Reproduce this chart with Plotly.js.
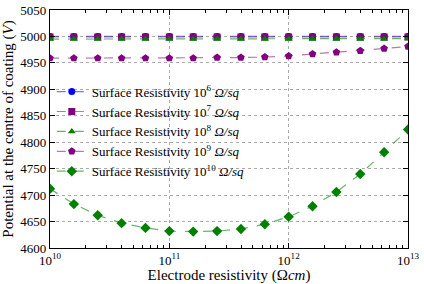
<!DOCTYPE html>
<html><head><meta charset="utf-8">
<script src="https://cdn.plot.ly/plotly-3.0.1.min.js"></script>
<style>body{margin:0;background:#fff}#c{width:424px;height:284px}</style>
</head><body><div id="c"></div>
<script>
const exponents = [10,10.2,10.4,10.6,10.8,11,11.2,11.4,11.6,11.8,12,12.2,12.4,12.6,12.8,13];
const electrodeResistivity = exponents.map(e => Math.pow(10, e));
const seriesNames = ["Surface Resistivity 10<sup>6</sup> <i>Ω/sq</i>","Surface Resistivity 10<sup>7</sup> <i>Ω/sq</i>","Surface Resistivity 10<sup>8</sup> <i>Ω/sq</i>","Surface Resistivity 10<sup>9</sup> <i>Ω/sq</i>","Surface Resistivity 10<sup>10</sup> <i>Ω/sq</i>"];
const s6 = [5000,5000,5000,5000,5000,5000,5000,5000,5000,5000,5000,5000,5000,5000,5000,5000];
const s7 = [4999,4999,4999,4999,4999,4999,4999,4999,4999,4999,4999,4999,4999,4999,4999,4999];
const s8 = [4995,4995,4995,4995,4995,4995,4995,4995,4995,4995,4995,4995,4995,4995,4995,4996];
const s9 = [4959,4959,4959,4959,4959,4959,4959,4960,4960,4961,4963,4967,4970,4973,4977,4981];
const s10 = [4712,4683,4662,4647,4638,4632,4631,4632,4636,4645,4659,4679,4706,4740,4781,4824];
const xTickVals = [1e10,1e11,1e12,1e13];
const xTickText = ["10<sup>10</sup>","10<sup>11</sup>","10<sup>12</sup>","10<sup>13</sup>"];
const yTickVals = [4600,4650,4700,4750,4800,4850,4900,4950,5000,5050];

const styles = [
  {color:'#0000ff', line:'rgba(60,60,255,0.7)', symbol:'circle', size:7},
  {color:'#800080', line:'rgba(150,60,150,0.7)', symbol:'square', size:7},
  {color:'#008000', line:'rgba(40,150,40,0.7)', symbol:'triangle-up', size:7},
  {color:'#800080', line:'rgba(150,60,150,0.7)', symbol:'pentagon', size:8},
  {color:'#008000', line:'rgba(40,150,40,0.7)', symbol:'diamond', size:8}
];
const data = [s6,s7,s8,s9,s10].map((ys,i)=>({
  x: electrodeResistivity, y: ys, type:'scatter', mode:'lines+markers',
  name: seriesNames[i],
  line:{color:styles[i].line, width:1.2, dash:'dash'},
  marker:{color:styles[i].color, symbol:styles[i].symbol, size:styles[i].size}
}));
const font = {family:'Liberation Serif, DejaVu Serif, serif', color:'#000'};
const layout = {
  width:424, height:284,
  margin:{l:50, r:16, t:10, b:36},
  paper_bgcolor:'#fff', plot_bgcolor:'#fff',
  font: Object.assign({size:12}, font),
  showlegend:true,
  legend:{x:0.005, y:0.72, xanchor:'left', yanchor:'top', bgcolor:'rgba(0,0,0,0)',
          font:Object.assign({size:13}, font), tracegroupgap:0, itemwidth:30},
  xaxis:{type:'log', range:[10,13], tickvals:xTickVals, ticktext:xTickText,
    showgrid:true, gridcolor:'#aaa', griddash:'dot', gridwidth:1,
    ticks:'inside', ticklen:5, tickcolor:'#000',
    minor:{ticks:'inside', ticklen:3, tickcolor:'#000', showgrid:false, dtick:'D1'},
    showline:true, linecolor:'#000', linewidth:1.2, mirror:'allticks',
    zeroline:false, tickfont:Object.assign({size:13}, font),
    title:{text:'Electrode resistivity (Ω<i>cm</i>)', font:Object.assign({size:15}, font), standoff:5}},
  yaxis:{range:[4600,5050], tickvals:yTickVals,
    showgrid:true, gridcolor:'#aaa', griddash:'dot', gridwidth:1,
    ticks:'inside', ticklen:5, tickcolor:'#000',
    showline:true, linecolor:'#000', linewidth:1.2, mirror:'allticks',
    zeroline:false, tickfont:Object.assign({size:13}, font),
    title:{text:'Potential at the centre of coating (<i>V</i>)', font:Object.assign({size:15}, font), standoff:4}}
};
Plotly.newPlot('c', data, layout, {staticPlot:true, displayModeBar:false});
</script></body></html>
